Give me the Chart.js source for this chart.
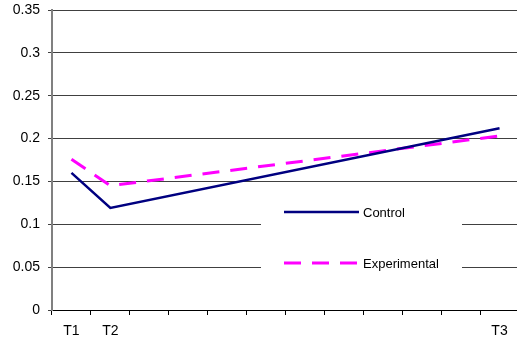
<!DOCTYPE html>
<html><head><meta charset="utf-8">
<script src="https://cdn.jsdelivr.net/npm/chart.js@4/dist/chart.umd.min.js"></script>
<style>html,body{margin:0;padding:0;background:#fff;overflow:hidden;width:517px;height:347px}</style>
</head><body>
<canvas id="c" width="519" height="347" style="width:519px;height:347px"></canvas>
<script>
const categories = ['T1','T2','','','','','','','','','','T3'];
const controlValues = [0.160, 0.119, null, null, null, null, null, null, null, null, null, 0.212];
const experimentalValues = [0.176, 0.145, null, null, null, null, null, null, null, null, null, 0.203];
const yTicks = [0, 0.05, 0.1, 0.15, 0.2, 0.25, 0.3, 0.35];

const legendPlugin = {
  id: 'inlegend',
  afterDraw(chart) {
    const ctx = chart.ctx;
    ctx.save();
    ctx.fillStyle = '#fff';
    ctx.fillRect(261, 190, 201, 108);
    const items = chart.data.datasets;
    const ys = [212, 263];
    items.forEach((ds, i) => {
      ctx.beginPath();
      ctx.strokeStyle = ds.borderColor;
      ctx.lineWidth = ds.borderWidth;
      ctx.setLineDash(ds.borderDash || []);
      ctx.moveTo(284, ys[i]);
      ctx.lineTo(359, ys[i]);
      ctx.stroke();
      ctx.setLineDash([]);
      ctx.fillStyle = '#000';
      ctx.font = '13px "Liberation Sans", Arial, sans-serif';
      ctx.textBaseline = 'middle';
      ctx.textAlign = 'left';
      ctx.fillText(ds.label, 363, ys[i] + 1);
    });
    ctx.restore();
  }
};

new Chart(document.getElementById('c'), {
  type: 'line',
  data: {
    labels: categories,
    datasets: [
      { label: 'Control', data: controlValues, borderColor: '#000080', borderWidth: 2.5, pointRadius: 0, spanGaps: true, tension: 0, fill: false },
      { label: 'Experimental', data: experimentalValues, borderColor: '#FF00FF', borderWidth: 3, borderDash: [17, 11], pointRadius: 0, spanGaps: true, tension: 0, fill: false }
    ]
  },
  options: {
    responsive: false,
    animation: false,
    devicePixelRatio: 1,
    layout: { padding: { top: 10, right: 0, left: 0, bottom: 0 } },
    plugins: { legend: { display: false }, tooltip: { enabled: false } },
    scales: {
      x: {
        type: 'category',
        offset: true,
        grid: { offset: true, drawOnChartArea: false, drawTicks: true, tickLength: 5, color: '#000' },
        border: { color: '#000', width: 1 },
        ticks: { color: '#000', font: { family: '"Liberation Sans", Arial, sans-serif', size: 14 }, padding: 8, maxRotation: 0, autoSkip: false },
        afterFit(s) { s.height = 37; s.paddingLeft = 0; s.paddingRight = 0; }
      },
      y: {
        min: 0, max: 0.35,
        afterBuildTicks(s) { s.ticks = yTicks.map(v => ({ value: v })); },
        grid: { color: '#404040', lineWidth: 1, drawTicks: true, tickLength: 4 },
        border: { color: '#808080', width: 2 },
        ticks: { color: '#000', font: { family: '"Liberation Sans", Arial, sans-serif', size: 14 }, padding: 8, callback: v => String(v) },
        afterFit(s) { s.width = 52; s.paddingTop = 0; s.paddingBottom = 0; }
      }
    }
  },
  plugins: [legendPlugin]
});
</script>
</body></html>
